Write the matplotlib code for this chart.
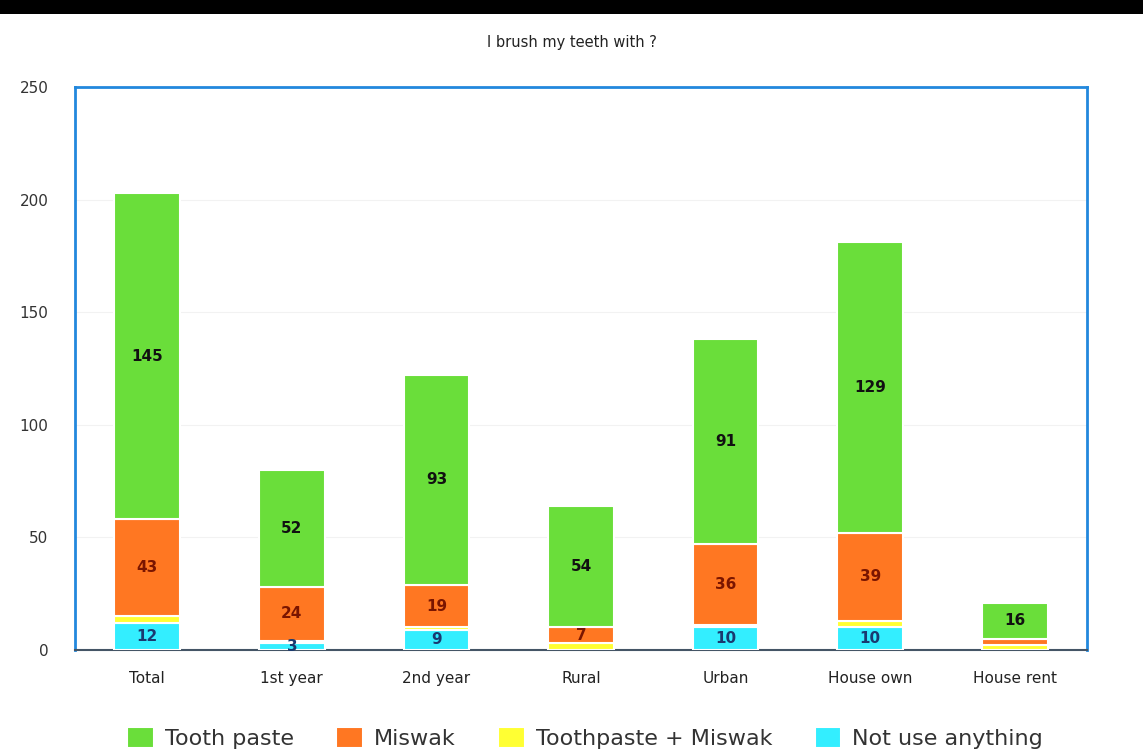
import matplotlib
matplotlib.use("Agg")
import matplotlib.pyplot as plt
import numpy as np
from matplotlib.patches import Rectangle

categories = ["Total", "1st year", "2nd year", "Rural", "Urban", "House own", "House rent"]
not_use = [12, 3, 9, 0, 10, 10, 0]
paste_miswak = [3, 1, 1, 3, 1, 3, 2]
miswak = [43, 24, 19, 7, 36, 39, 3]
tooth_paste = [145, 52, 93, 54, 91, 129, 16]

# name, values, colour, label colour, minimum value that gets a label
series = [
    ("Not use anything", not_use, "#33eeff", "#1a3a70", 1),
    ("Toothpaste + Miswak", paste_miswak, "#ffff33", "#333333", 1000),
    ("Miswak", miswak, "#ff7722", "#7a1500", 5),
    ("Tooth paste", tooth_paste, "#6ade3a", "#111111", 1),
]

plt.rcParams['font.family'] = ['DejaVu Sans']

fig = plt.figure(figsize=(11.43, 7.5), dpi=100)
ax = fig.add_axes([75/1143, 100/750, 1012/1143, 563/750])

x = np.arange(len(categories))
bottom = np.zeros(len(categories))
handles = {}
for name, vals, color, tcolor, minlab in series:
    vals = np.array(vals, dtype=float)
    bars = ax.bar(x, vals, 0.455, bottom=bottom, color=color, edgecolor="white",
                  linewidth=1.5, label=name, zorder=3)
    handles[name] = bars
    for xi, v, b in zip(x, vals, bottom):
        if v >= minlab:
            ax.text(xi, b + v / 2, f"{int(v)}", ha="center", va="center",
                    fontsize=11, fontweight="bold", color=tcolor, zorder=4)
    bottom += vals

ax.set_xlim(-0.5, len(categories) - 0.5)
ax.set_ylim(0, 250)
ax.set_yticks([0, 50, 100, 150, 200, 250])
ax.set_xticks(x)
ax.set_xticklabels(categories, fontsize=11, color="#222222")
ax.tick_params(axis="both", length=0)
ax.tick_params(axis="y", pad=19, labelsize=11, labelcolor="#333333")
ax.tick_params(axis="x", pad=15)
ax.yaxis.grid(True, color="#f2f2f2", linewidth=0.8, zorder=0)
for s in ["left", "top", "right"]:
    ax.spines[s].set_color("#2288dd")
    ax.spines[s].set_linewidth(2)
ax.spines["bottom"].set_color("#445566")
ax.spines["bottom"].set_linewidth(1.5)

fig.text(0.5, 1 - 43/750, "I brush my teeth with ?", ha="center", va="center",
         fontsize=10.5, color="#222222")

fig.patches.append(Rectangle((0, 1 - 14/750), 1, 14/750, transform=fig.transFigure,
                             facecolor="black", edgecolor="none", zorder=10))

order = ["Tooth paste", "Miswak", "Toothpaste + Miswak", "Not use anything"]
leg = fig.legend([handles[n] for n in order], order, loc="center", ncol=4,
                 bbox_to_anchor=(0.512, 1 - 738/750), frameon=False, fontsize=16,
                 handlelength=1.2, handleheight=1.1, columnspacing=1.9, handletextpad=0.5)
for t in leg.get_texts():
    t.set_color("#333333")

fig.savefig("out.png", dpi=100, facecolor="white")
